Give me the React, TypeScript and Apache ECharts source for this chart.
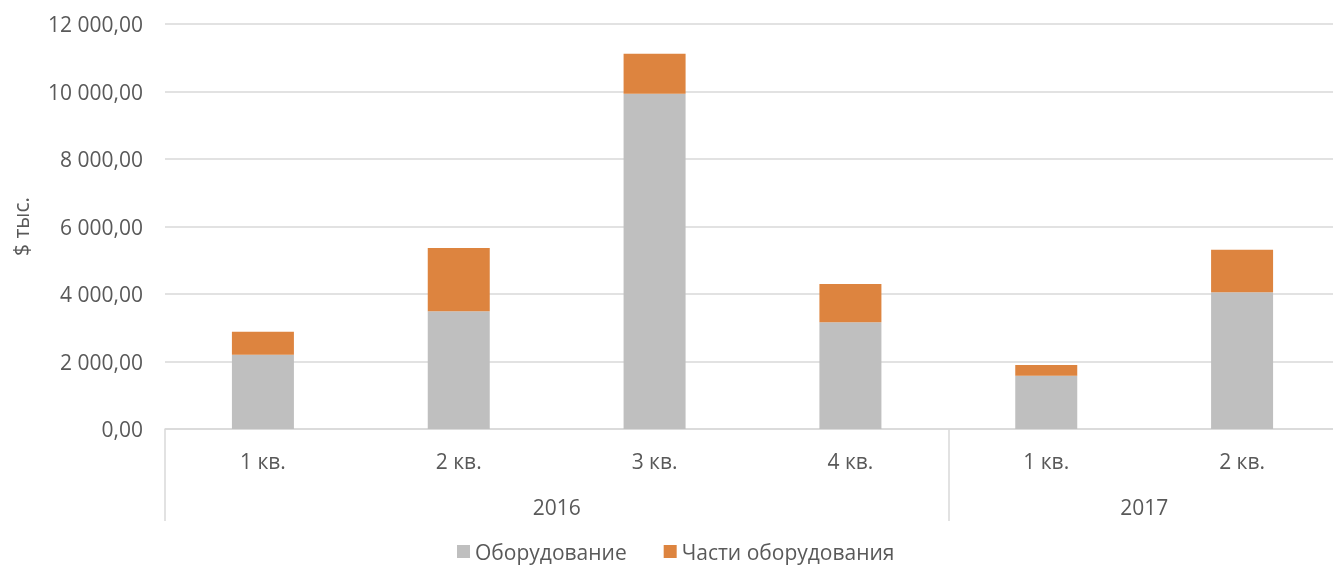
import React, { useEffect, useRef } from "react";
import * as echarts from "echarts";

const quarters = ["1 кв.", "2 кв.", "3 кв.", "4 кв.", "1 кв.", "2 кв."];
const years = ["2016", "2017"];
const yearQuarterCounts = [4, 2];
const equipment = [2200, 3490, 9930, 3160, 1580, 4050];
const equipmentParts = [685, 1870, 1190, 1140, 320, 1260];
const seriesNames = ["Оборудование", "Части оборудования"];
const yTicks = { min: 0, max: 12000, interval: 2000 };

const FONT = "'Open Sans', 'Noto Sans', sans-serif";
const TEXT = "#595959";
const LINE = "#d9d9d9";
const FS = 21;

function fmt(v: number) {
  const s = Math.round(v).toString().replace(/\B(?=(\d{3})+(?!\d))/g, " ");
  return s + ",00";
}

export default function App() {
  const ref = useRef<HTMLDivElement>(null);
  useEffect(() => {
    if (!ref.current) return;
    const chart = echarts.init(ref.current, undefined, { renderer: "svg" });
    const boundaries: number[] = [0];
    const centers: number[] = [];
    let acc = 0;
    yearQuarterCounts.forEach((c) => {
      centers.push(acc + c / 2);
      acc += c;
      boundaries.push(acc);
    });
    chart.setOption({
      animation: false,
      textStyle: { fontFamily: FONT },
      grid: { left: 165, right: 0, top: 24, bottom: 141 },
      legend: {
        top: 536,
        left: 452,
        icon: "rect",
        itemWidth: 13,
        itemHeight: 13,
        itemGap: 37,
        textStyle: { color: TEXT, fontSize: FS, fontFamily: FONT },
        data: seriesNames,
      },
      xAxis: [
        {
          type: "category",
          data: quarters,
          axisLine: { lineStyle: { color: LINE, width: 1.5 } },
          axisTick: { show: false },
          axisLabel: { color: TEXT, fontSize: FS, fontFamily: FONT, margin: 21 },
        },
        {
          type: "value",
          position: "bottom",
          min: 0,
          max: quarters.length,
          splitLine: { show: false },
          axisLine: { show: false },
          axisTick: {
            show: true,
            customValues: boundaries,
            length: 92,
            lineStyle: { color: LINE, width: 1.5 },
          },
          axisLabel: {
            color: TEXT,
            fontSize: FS,
            fontFamily: FONT,
            margin: 67,
            customValues: centers,
            formatter: (v: number) => {
              const i = centers.indexOf(v);
              return i >= 0 ? years[i] : "";
            },
          },
        },
      ],
      yAxis: {
        type: "value",
        min: yTicks.min,
        max: yTicks.max,
        interval: yTicks.interval,
        name: "$ тыс.",
        nameLocation: "middle",
        nameGap: 134,
        nameTextStyle: { color: TEXT, fontSize: FS, fontFamily: FONT },
        axisLine: { show: false },
        axisTick: { show: false },
        axisLabel: { color: TEXT, fontSize: FS, fontFamily: FONT, margin: 22, formatter: fmt },
        splitLine: { lineStyle: { color: LINE, width: 1.5 } },
      },
      series: [
        {
          name: seriesNames[0],
          type: "bar",
          stack: "total",
          data: equipment,
          barWidth: 62,
          itemStyle: { color: "#bfbfbf" },
        },
        {
          name: seriesNames[1],
          type: "bar",
          stack: "total",
          data: equipmentParts,
          barWidth: 62,
          itemStyle: { color: "#dd843f" },
        },
      ],
    });
    return () => chart.dispose();
  }, []);
  return (
    <div
      ref={ref}
      style={{ position: "fixed", left: 0, top: 0, width: 1340, height: 570 }}
    />
  );
}
